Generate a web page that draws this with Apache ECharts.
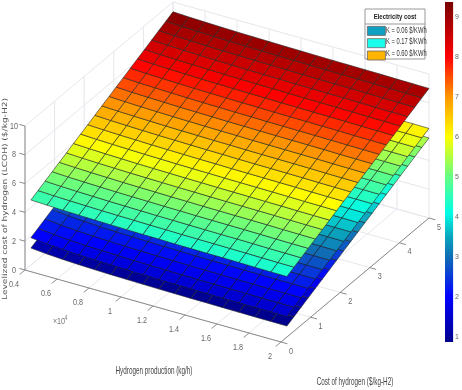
<!DOCTYPE html>
<html>
<head>
<meta charset="utf-8">
<style>
  html, body { margin: 0; padding: 0; background: #fff; }
  #chart-container { width: 462px; height: 390px; }
</style>
</head>
<body>
<div id="chart-container"></div>
<script src="https://cdn.jsdelivr.net/npm/echarts@6/dist/echarts.min.js"></script>
<script>
// mesh positions
var hydrogenProduction = [0.4, 0.5, 0.6, 0.7, 0.8, 0.9, 1, 1.1, 1.2, 1.3, 1.4, 1.5, 1.6, 1.7, 1.8, 1.9, 2];
var hydrogenCost = [0.2, 0.44, 0.68, 0.92, 1.16, 1.4, 1.64, 1.88, 2.12, 2.36, 2.6, 2.84, 3.08, 3.32, 3.56, 3.8, 4.04, 4.28, 4.52, 4.76, 5];

// LCOH, one row per hydrogen cost
var lcohK006 = [
  [1.18,1.08,1.01,0.96,0.92,0.89,0.87,0.85,0.83,0.82,0.81,0.80,0.79,0.78,0.77,0.77,0.76],
  [1.42,1.32,1.25,1.20,1.16,1.13,1.11,1.09,1.07,1.06,1.05,1.04,1.03,1.02,1.01,1.01,1.00],
  [1.66,1.56,1.49,1.44,1.40,1.37,1.35,1.33,1.31,1.30,1.29,1.28,1.27,1.26,1.25,1.25,1.24],
  [1.90,1.80,1.73,1.68,1.64,1.61,1.59,1.57,1.55,1.54,1.53,1.52,1.51,1.50,1.49,1.49,1.48],
  [2.14,2.04,1.97,1.92,1.88,1.85,1.83,1.81,1.79,1.78,1.77,1.76,1.75,1.74,1.73,1.73,1.72],
  [2.38,2.28,2.21,2.16,2.12,2.09,2.07,2.05,2.03,2.02,2.01,2.00,1.99,1.98,1.97,1.97,1.96],
  [2.62,2.52,2.45,2.40,2.36,2.33,2.31,2.29,2.27,2.26,2.25,2.24,2.23,2.22,2.21,2.21,2.20],
  [2.86,2.76,2.69,2.64,2.60,2.57,2.55,2.53,2.51,2.50,2.49,2.48,2.47,2.46,2.45,2.45,2.44],
  [3.10,3.00,2.93,2.88,2.84,2.81,2.79,2.77,2.75,2.74,2.73,2.72,2.71,2.70,2.69,2.69,2.68],
  [3.34,3.24,3.17,3.12,3.08,3.05,3.03,3.01,2.99,2.98,2.97,2.96,2.95,2.94,2.93,2.93,2.92],
  [3.58,3.48,3.41,3.36,3.32,3.29,3.27,3.25,3.23,3.22,3.21,3.20,3.19,3.18,3.17,3.17,3.16],
  [3.82,3.72,3.65,3.60,3.56,3.53,3.51,3.49,3.47,3.46,3.45,3.44,3.43,3.42,3.41,3.41,3.40],
  [4.06,3.96,3.89,3.84,3.80,3.77,3.75,3.73,3.71,3.70,3.69,3.68,3.67,3.66,3.65,3.65,3.64],
  [4.30,4.20,4.13,4.08,4.04,4.01,3.99,3.97,3.95,3.94,3.93,3.92,3.91,3.90,3.89,3.89,3.88],
  [4.54,4.44,4.37,4.32,4.28,4.25,4.23,4.21,4.19,4.18,4.17,4.16,4.15,4.14,4.13,4.13,4.12],
  [4.78,4.68,4.61,4.56,4.52,4.49,4.47,4.45,4.43,4.42,4.41,4.40,4.39,4.38,4.37,4.37,4.36],
  [5.02,4.92,4.85,4.80,4.76,4.73,4.71,4.69,4.67,4.66,4.65,4.64,4.63,4.62,4.61,4.61,4.60],
  [5.26,5.16,5.09,5.04,5.00,4.97,4.95,4.93,4.91,4.90,4.89,4.88,4.87,4.86,4.85,4.85,4.84],
  [5.50,5.40,5.33,5.28,5.24,5.21,5.19,5.17,5.15,5.14,5.13,5.12,5.11,5.10,5.09,5.09,5.08],
  [5.74,5.64,5.57,5.52,5.48,5.45,5.43,5.41,5.39,5.38,5.37,5.36,5.35,5.34,5.33,5.33,5.32],
  [5.98,5.88,5.81,5.76,5.72,5.69,5.67,5.65,5.63,5.62,5.61,5.60,5.59,5.58,5.57,5.57,5.56]
];
var lcohK017 = [
  [1.90,1.78,1.70,1.64,1.60,1.57,1.54,1.52,1.50,1.48,1.47,1.46,1.45,1.44,1.43,1.43,1.42],
  [2.14,2.02,1.94,1.88,1.84,1.81,1.78,1.76,1.74,1.72,1.71,1.70,1.69,1.68,1.67,1.67,1.66],
  [2.38,2.26,2.18,2.12,2.08,2.05,2.02,2.00,1.98,1.96,1.95,1.94,1.93,1.92,1.91,1.91,1.90],
  [2.62,2.50,2.42,2.36,2.32,2.29,2.26,2.24,2.22,2.20,2.19,2.18,2.17,2.16,2.15,2.15,2.14],
  [2.86,2.74,2.66,2.60,2.56,2.53,2.50,2.48,2.46,2.44,2.43,2.42,2.41,2.40,2.39,2.39,2.38],
  [3.10,2.98,2.90,2.84,2.80,2.77,2.74,2.72,2.70,2.68,2.67,2.66,2.65,2.64,2.63,2.63,2.62],
  [3.34,3.22,3.14,3.08,3.04,3.01,2.98,2.96,2.94,2.92,2.91,2.90,2.89,2.88,2.87,2.87,2.86],
  [3.58,3.46,3.38,3.32,3.28,3.25,3.22,3.20,3.18,3.16,3.15,3.14,3.13,3.12,3.11,3.11,3.10],
  [3.82,3.70,3.62,3.56,3.52,3.49,3.46,3.44,3.42,3.40,3.39,3.38,3.37,3.36,3.35,3.35,3.34],
  [4.06,3.94,3.86,3.80,3.76,3.73,3.70,3.68,3.66,3.64,3.63,3.62,3.61,3.60,3.59,3.59,3.58],
  [4.30,4.18,4.10,4.04,4.00,3.97,3.94,3.92,3.90,3.88,3.87,3.86,3.85,3.84,3.83,3.83,3.82],
  [4.54,4.42,4.34,4.28,4.24,4.21,4.18,4.16,4.14,4.12,4.11,4.10,4.09,4.08,4.07,4.07,4.06],
  [4.78,4.66,4.58,4.52,4.48,4.45,4.42,4.40,4.38,4.36,4.35,4.34,4.33,4.32,4.31,4.31,4.30],
  [5.02,4.90,4.82,4.76,4.72,4.69,4.66,4.64,4.62,4.60,4.59,4.58,4.57,4.56,4.55,4.55,4.54],
  [5.26,5.14,5.06,5.00,4.96,4.93,4.90,4.88,4.86,4.84,4.83,4.82,4.81,4.80,4.79,4.79,4.78],
  [5.50,5.38,5.30,5.24,5.20,5.17,5.14,5.12,5.10,5.08,5.07,5.06,5.05,5.04,5.03,5.03,5.02],
  [5.74,5.62,5.54,5.48,5.44,5.41,5.38,5.36,5.34,5.32,5.31,5.30,5.29,5.28,5.27,5.27,5.26],
  [5.98,5.86,5.78,5.72,5.68,5.65,5.62,5.60,5.58,5.56,5.55,5.54,5.53,5.52,5.51,5.51,5.50],
  [6.22,6.10,6.02,5.96,5.92,5.89,5.86,5.84,5.82,5.80,5.79,5.78,5.77,5.76,5.75,5.75,5.74],
  [6.46,6.34,6.26,6.20,6.16,6.13,6.10,6.08,6.06,6.04,6.03,6.02,6.01,6.00,5.99,5.99,5.98],
  [6.70,6.58,6.50,6.44,6.40,6.37,6.34,6.32,6.30,6.28,6.27,6.26,6.25,6.24,6.23,6.23,6.22]
];
var lcohK060 = [
  [4.52,4.47,4.43,4.40,4.37,4.35,4.33,4.31,4.30,4.28,4.27,4.26,4.25,4.24,4.22,4.21,4.20],
  [4.76,4.71,4.67,4.64,4.61,4.59,4.57,4.55,4.54,4.52,4.51,4.50,4.49,4.48,4.46,4.45,4.44],
  [5.00,4.95,4.91,4.88,4.85,4.83,4.81,4.79,4.78,4.76,4.75,4.74,4.73,4.72,4.70,4.69,4.68],
  [5.24,5.19,5.15,5.12,5.09,5.07,5.05,5.03,5.02,5.00,4.99,4.98,4.97,4.96,4.94,4.93,4.92],
  [5.48,5.43,5.39,5.36,5.33,5.31,5.29,5.27,5.26,5.24,5.23,5.22,5.21,5.20,5.18,5.17,5.16],
  [5.72,5.67,5.63,5.60,5.57,5.55,5.53,5.51,5.50,5.48,5.47,5.46,5.45,5.44,5.42,5.41,5.40],
  [5.96,5.91,5.87,5.84,5.81,5.79,5.77,5.75,5.74,5.72,5.71,5.70,5.69,5.68,5.66,5.65,5.64],
  [6.20,6.15,6.11,6.08,6.05,6.03,6.01,5.99,5.98,5.96,5.95,5.94,5.93,5.92,5.90,5.89,5.88],
  [6.44,6.39,6.35,6.32,6.29,6.27,6.25,6.23,6.22,6.20,6.19,6.18,6.17,6.16,6.14,6.13,6.12],
  [6.68,6.63,6.59,6.56,6.53,6.51,6.49,6.47,6.46,6.44,6.43,6.42,6.41,6.40,6.38,6.37,6.36],
  [6.92,6.87,6.83,6.80,6.77,6.75,6.73,6.71,6.70,6.68,6.67,6.66,6.65,6.64,6.62,6.61,6.60],
  [7.16,7.11,7.07,7.04,7.01,6.99,6.97,6.95,6.94,6.92,6.91,6.90,6.89,6.88,6.86,6.85,6.84],
  [7.40,7.35,7.31,7.28,7.25,7.23,7.21,7.19,7.18,7.16,7.15,7.14,7.13,7.12,7.10,7.09,7.08],
  [7.64,7.59,7.55,7.52,7.49,7.47,7.45,7.43,7.42,7.40,7.39,7.38,7.37,7.36,7.34,7.33,7.32],
  [7.88,7.83,7.79,7.76,7.73,7.71,7.69,7.67,7.66,7.64,7.63,7.62,7.61,7.60,7.58,7.57,7.56],
  [8.12,8.07,8.03,8.00,7.97,7.95,7.93,7.91,7.90,7.88,7.87,7.86,7.85,7.84,7.82,7.81,7.80],
  [8.36,8.31,8.27,8.24,8.21,8.19,8.17,8.15,8.14,8.12,8.11,8.10,8.09,8.08,8.06,8.05,8.04],
  [8.60,8.55,8.51,8.48,8.45,8.43,8.41,8.39,8.38,8.36,8.35,8.34,8.33,8.32,8.30,8.29,8.28],
  [8.84,8.79,8.75,8.72,8.69,8.67,8.65,8.63,8.62,8.60,8.59,8.58,8.57,8.56,8.54,8.53,8.52],
  [9.08,9.03,8.99,8.96,8.93,8.91,8.89,8.87,8.86,8.84,8.83,8.82,8.81,8.80,8.78,8.77,8.76],
  [9.32,9.27,9.23,9.20,9.17,9.15,9.13,9.11,9.10,9.08,9.07,9.06,9.05,9.04,9.02,9.01,9.00]
];

var xTicks = [0.4, 0.6, 0.8, 1, 1.2, 1.4, 1.6, 1.8, 2];
var yTicks = [0, 1, 2, 3, 4, 5];
var zTicks = [0, 2, 4, 6, 8, 10];
var colorTicks = [1, 2, 3, 4, 5, 6, 7, 8, 9];
var legendNames = ["K = 0.06 $/KWh", "K = 0.17 $/KWh", "K = 0.60 $/KWh"];
var legendColors = ["#0f9fc0", "#19ffee", "#ffb400"];

// colormap, jet with the muted teal the picture has around 3
var colorMin = 0.87;
var colorMax = 9.37;
var colorLevels = [0.87, 2, 3, 3.5, 4.1, 5, 6, 7, 8, 9.37];
var colorStops = ["#00008c", "#0000ff", "#0f6eb4", "#0aa5be", "#00ffe6", "#64ff82", "#ffff00", "#ff9600", "#ff0000", "#780000"];

function colorAt(z) {
  for (var i = 0; i < colorLevels.length - 1; i++) {
    if (z <= colorLevels[i + 1]) {
      var t = Math.max(0, (z - colorLevels[i]) / (colorLevels[i + 1] - colorLevels[i]));
      return echarts.color.lerp(t, [colorStops[i], colorStops[i + 1]]);
    }
  }
  return colorStops[colorStops.length - 1];
}

// orthographic view, as the 3D axes lie on the flat page
function project(x, y, z) {
  var fx = (x - 0.4) / 1.6;
  var fy = y / 5;
  return [25 + fx * 256 + fy * 148, 270 + fx * 72 - fy * 124 - z * 14.4];
}

function surfaceCells(grid) {
  var cells = [];
  for (var j = 0; j < hydrogenCost.length - 1; j++) {
    for (var i = 0; i < hydrogenProduction.length - 1; i++) {
      cells.push([
        hydrogenProduction[i], hydrogenProduction[i + 1],
        hydrogenCost[j], hydrogenCost[j + 1],
        grid[j][i], grid[j][i + 1], grid[j + 1][i + 1], grid[j + 1][i],
      ]);
    }
  }
  return cells;
}

function renderCell(params, api) {
  var x0 = api.value(0), x1 = api.value(1), y0 = api.value(2), y1 = api.value(3);
  var z00 = api.value(4), z10 = api.value(5), z11 = api.value(6), z01 = api.value(7);
  var points = [
    api.coord(project(x0, y0, z00)),
    api.coord(project(x1, y0, z10)),
    api.coord(project(x1, y1, z11)),
    api.coord(project(x0, y1, z01)),
  ];
  return {
    type: "polygon",
    shape: { points: points },
    style: {
      fill: colorAt((z00 + z10 + z11 + z01) / 4),
      stroke: "rgba(35,35,35,0.72)",
      lineWidth: 0.8,
    },
  };
}

function surfaceSeries(name, grid, color) {
  return {
    name: name,
    type: "custom",
    xAxisIndex: 0,
    yAxisIndex: 0,
    silent: true,
    itemStyle: { color: color },
    renderItem: renderCell,
    data: surfaceCells(grid),
  };
}

// box walls, floor, axis lines and ticks
var wallLines = [];
var axisLines = [
  [0.4, 0, 0, 2, 0, 0],
  [2, 0, 0, 2, 5, 0],
  [0.4, 0, 0, 0.4, 0, 10],
];
xTicks.forEach(function (x) {
  wallLines.push([x, 0, 0, x, 5, 0], [x, 5, 0, x, 5, 10]);
  axisLines.push([x, 0, 0, x, -0.18, 0]);
});
yTicks.forEach(function (y) {
  wallLines.push([0.4, y, 0, 2, y, 0], [0.4, y, 0, 0.4, y, 10]);
  axisLines.push([2, y, 0, 2.04, y, 0]);
});
zTicks.forEach(function (z) {
  wallLines.push([0.4, 0, z, 0.4, 5, z], [0.4, 5, z, 2, 5, z]);
  axisLines.push([0.4, 0, z, 0.365, 0, z]);
});

function lineSeries(lines, color) {
  return {
    type: "custom",
    xAxisIndex: 0,
    yAxisIndex: 0,
    silent: true,
    renderItem: function (params, api) {
      var a = api.coord(project(api.value(0), api.value(1), api.value(2)));
      var b = api.coord(project(api.value(3), api.value(4), api.value(5)));
      return {
        type: "line",
        shape: { x1: a[0], y1: a[1], x2: b[0], y2: b[1] },
        style: { stroke: color, lineWidth: 1 },
      };
    },
    data: lines,
  };
}

// tick labels sit a fixed distance off their axis
var tickLabels = [];
xTicks.forEach(function (x) { tickLabels.push([x, 0, 0, -11, 14, String(x)]); });
yTicks.forEach(function (y) { tickLabels.push([2, y, 0, 10, 9, String(y)]); });
zTicks.forEach(function (z) { tickLabels.push([0.4, 0, z, -11, 0, String(z)]); });

var tickLabelSeries = {
  type: "custom",
  xAxisIndex: 0,
  yAxisIndex: 0,
  silent: true,
  renderItem: function (params, api) {
    var p = api.coord(project(api.value(0), api.value(1), api.value(2)));
    var row = tickLabels[params.dataIndex];
    return {
      type: "text",
      x: p[0] + row[3],
      y: p[1] + row[4],
      scaleX: 0.76,
      style: {
        text: row[5],
        fill: "#666",
        font: '9.5px "Liberation Sans", sans-serif',
        align: "center",
        verticalAlign: "middle",
      },
    };
  },
  data: tickLabels,
};

// colour bar, one gradient rectangle on its own axis
var colorBarSeries = {
  type: "custom",
  xAxisIndex: 1,
  yAxisIndex: 1,
  silent: true,
  renderItem: function (params, api) {
    var top = api.coord([0, colorMax]);
    var bottom = api.coord([1, colorMin]);
    var stops = colorLevels.map(function (v, i) {
      return { offset: (colorMax - v) / (colorMax - colorMin), color: colorStops[i] };
    }).reverse();
    return {
      type: "rect",
      shape: { x: top[0], y: top[1], width: bottom[0] - top[0], height: bottom[1] - top[1] },
      style: { fill: new echarts.graphic.LinearGradient(0, 0, 0, 1, stops) },
    };
  },
  data: [[0, colorMin]],
};

// squeezed text: the picture's labels are narrower than any installed face
function pageText(text, x, y, font, fill, scaleX, align) {
  return {
    type: "text",
    z: 11,
    x: x,
    y: y,
    scaleX: scaleX,
    style: { text: text, fill: fill, font: font, align: align || "center", verticalAlign: "middle" },
  };
}

var dom = document.getElementById("chart-container");
var myChart = echarts.init(dom, null, { renderer: "canvas" });

var sans = '"Liberation Sans", sans-serif';

var option = {
  animation: false,
  grid: [
    { left: 0, top: 0, width: 462, height: 390 },
    { left: 445, top: 2, width: 10, height: 340 },
  ],
  xAxis: [
    { type: "value", min: 0, max: 462, show: false },
    { type: "value", gridIndex: 1, min: 0, max: 1, show: false },
  ],
  yAxis: [
    { type: "value", min: 0, max: 390, inverse: true, show: false },
    {
      type: "value",
      gridIndex: 1,
      position: "right",
      min: colorMin,
      max: colorMax,
      axisLine: { show: false },
      axisTick: { show: false },
      splitLine: { show: false },
      axisLabel: {
        margin: 2,
        color: "#666",
        fontSize: 7,
        fontFamily: sans,
        customValues: colorTicks,
      },
    },
  ],
  legend: {
    orient: "vertical",
    left: 367,
    top: 26,
    padding: 0,
    itemGap: 2.5,
    itemWidth: 18,
    itemHeight: 9,
    z: 20,
    selectedMode: false,
    data: legendNames,
    icon: "rect",
    itemStyle: { borderColor: "#666", borderWidth: 0.8 },
    formatter: function () { return ""; },
  },
  graphic: [
    {
      type: "rect",
      z: 10,
      shape: { x: 365, y: 9, width: 60, height: 50 },
      style: { fill: "#fff", stroke: "#999", lineWidth: 1 },
    },
    {
      type: "line",
      z: 11,
      shape: { x1: 365, y1: 24, x2: 425, y2: 24 },
      style: { stroke: "#999", lineWidth: 1 },
    },
    pageText("Electricity cost", 395, 17, "bold 8px " + sans, "#222", 0.75),
    pageText(legendNames[0], 386, 30.5, "8.5px " + sans, "#333", 0.68, "left"),
    pageText(legendNames[1], 386, 42, "8.5px " + sans, "#333", 0.68, "left"),
    pageText(legendNames[2], 386, 53.5, "8.5px " + sans, "#333", 0.68, "left"),
    pageText("Hydrogen production (kg/h)", 154, 371, "10.5px " + sans, "#444", 0.605),
    pageText("Cost of hydrogen ($/kg-H2)", 355, 382, "10.5px " + sans, "#444", 0.605),
    Object.assign(
      pageText("Levelized cost of hydrogen (LCOH) ($/kg-H2)", 5, 199, '7px "DejaVu Sans", sans-serif', "#555", 1.29),
      { rotation: Math.PI / 2 }
    ),
    pageText("×10", 59, 321, "9.5px " + sans, "#777", 0.76),
    pageText("4", 66, 318, "6.5px " + sans, "#777", 0.8),
  ],
  series: [
    lineSeries(wallLines, "#e6e6ec"),
    lineSeries(axisLines, "#8a8a8a"),
    tickLabelSeries,
    surfaceSeries(legendNames[0], lcohK006, legendColors[0]),
    surfaceSeries(legendNames[1], lcohK017, legendColors[1]),
    surfaceSeries(legendNames[2], lcohK060, legendColors[2]),
    colorBarSeries,
  ],
};

myChart.setOption(option);

window.addEventListener("resize", myChart.resize);
</script>
</body>
</html>
